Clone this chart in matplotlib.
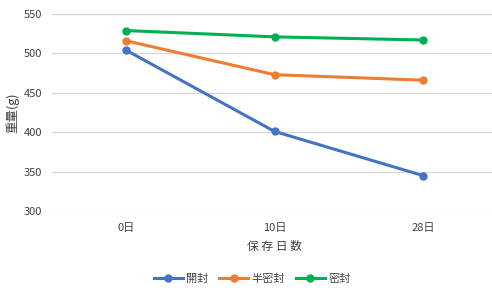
import matplotlib.pyplot as plt

plt.rcParams['font.family'] = ['Noto Sans CJK JP', 'DejaVu Sans']

days = ['0日', '10日', '28日']
opened = [504, 401, 345]
half_sealed = [516, 473, 466]
sealed = [529, 521, 517]

fig = plt.figure(figsize=(4.92, 2.9), dpi=100)
ax = fig.add_axes([52 / 492, 1 - 211 / 290, 445 / 492, 197 / 290])

x = range(len(days))
ax.plot(x, opened, color='#4472C4', lw=2.2, marker='o', ms=5, label='開封')
ax.plot(x, half_sealed, color='#ED7D31', lw=2.2, marker='o', ms=5, label='半密封')
ax.plot(x, sealed, color='#00B050', lw=2.2, marker='o', ms=5, label='密封')

ax.set_xlim(-0.5, 2.5)
ax.set_ylim(300, 550)
ax.set_yticks(range(300, 551, 50))
ax.set_xticks(list(x))
ax.set_xticklabels(days)
ax.grid(axis='y', color='#d9d9d9', lw=1)
ax.set_axisbelow(True)
for s in ax.spines.values():
    s.set_visible(False)
ax.tick_params(length=0, labelsize=8, colors='#404040')
ax.tick_params(axis='x', pad=9)
ax.tick_params(axis='y', pad=7)

ax.set_xlabel('保 存 日 数', fontsize=8.5, color='#404040', labelpad=5)
ax.set_ylabel('重量(g)', fontsize=9, color='#404040', labelpad=3)

fig.legend(loc='center', bbox_to_anchor=(252 / 492, 1 - 279 / 290), ncol=3,
           frameon=False, fontsize=8, handlelength=2.6, columnspacing=1.0,
           handletextpad=0.3, labelcolor='#404040')

fig.savefig('out.png', dpi=100)
